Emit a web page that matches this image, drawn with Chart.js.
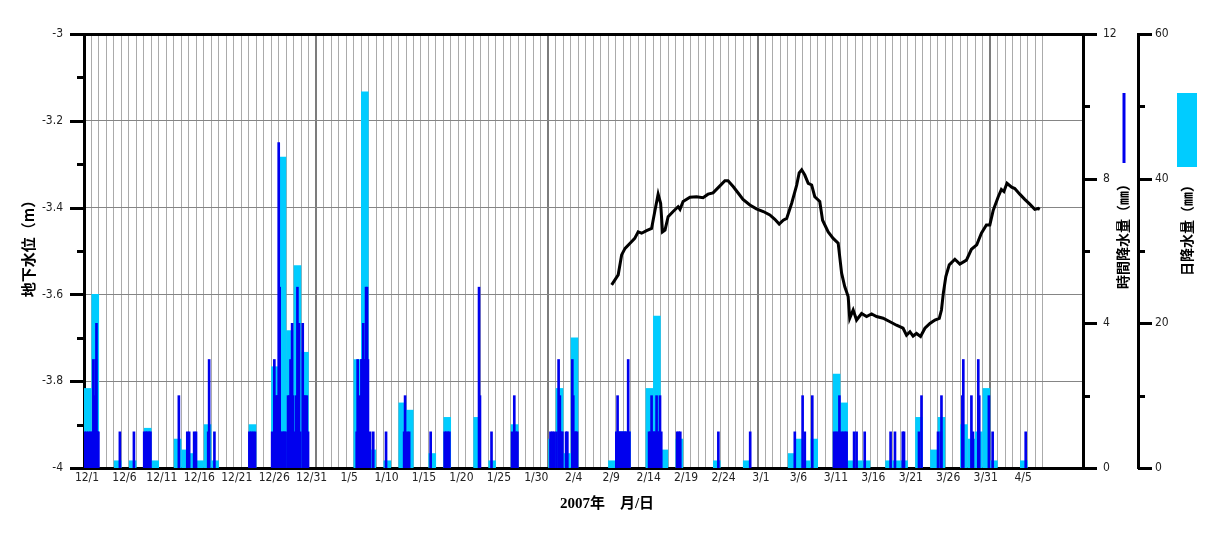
<!DOCTYPE html>
<html>
<head>
<meta charset="utf-8">
<script src="https://cdn.jsdelivr.net/npm/chart.js@4.4.0/dist/chart.umd.min.js"></script>
<style>
  html, body { margin: 0; padding: 0; background: #fff; }
  #wrap { width: 1215px; height: 544px; }
</style>
</head>
<body>
<div id="wrap"><canvas id="gwChart" width="1215" height="544"></canvas></div>
<script>
// day 0 = 2006/12/1, one unit = one day
const monthStarts = [[12, 0], [1, 31], [2, 62], [3, 90], [4, 121]];

// daily rainfall (mm)
const dailyDates = ["12/1","12/2","12/5","12/7","12/9","12/10","12/13","12/14","12/15","12/16","12/17","12/18","12/23","12/26","12/27","12/28","12/29","12/30",
  "1/6","1/7","1/8","1/10","1/12","1/13","1/16","1/18","1/22","1/24","1/27",
  "2/1","2/2","2/3","2/4","2/9","2/10","2/11","2/14","2/15","2/16","2/18","2/23","2/27",
  "3/5","3/6","3/7","3/8","3/11","3/12","3/13","3/14","3/15","3/18","3/19","3/20","3/22","3/24","3/25","3/28","3/29","3/30","3/31","4/1","4/5"];
const dailyRain = [11, 24, 1, 1, 5.5, 1, 4, 2.5, 2, 1, 6, 1, 6, 14, 43, 19, 28, 16,
  15, 52, 2.5, 1, 9, 8, 2, 7, 7, 1, 6,
  4, 11, 2, 18, 1, 5, 5, 11, 21, 2.5, 4, 1, 1,
  2, 4, 1, 4, 13, 9, 1, 1, 1, 1, 1, 1, 7, 2.5, 7, 6, 4, 5, 11, 1, 1];

// hourly rainfall (mm), "M/D H"
const hourlyTimes = ["12/1 2","12/1 8","12/1 14","12/1 20","12/2 1","12/2 6","12/2 10","12/2 14","12/2 16","12/2 20","12/2 22",
  "12/5 19","12/7 16","12/9 1","12/9 6","12/9 11","12/9 16","12/9 21","12/13 16","12/14 19","12/15 1","12/15 17","12/15 23",
  "12/17 14","12/17 17","12/18 10","12/23 2","12/23 8","12/23 14","12/23 20",
  "12/26 3","12/26 10","12/26 14","12/26 18","12/26 22","12/27 0","12/27 3","12/27 8","12/27 13","12/27 18","12/27 22",
  "12/28 6","12/28 10","12/28 14","12/28 18","12/28 19","12/28 22","12/29 3","12/29 8","12/29 12","12/29 17","12/29 21",
  "12/30 5","12/30 9","12/30 13","12/30 18","12/30 22",
  "1/6 10","1/6 13","1/6 16","1/6 20","1/7 1","1/7 4","1/7 7","1/7 10","1/7 13","1/7 16","1/7 19","1/7 22",
  "1/8 5","1/8 15","1/10 8","1/12 18","1/12 21","1/13 4","1/13 10","1/16 7","1/18 4","1/18 9","1/18 14","1/18 19",
  "1/22 18","1/22 21","1/24 10","1/27 4","1/27 11","1/27 16","1/27 21",
  "2/1 7","2/1 13","2/1 18","2/2 2","2/2 9","2/2 13","2/2 17","2/2 21","2/3 9","2/3 13",
  "2/4 5","2/4 8","2/4 12","2/4 16","2/4 20",
  "2/10 2","2/10 6","2/10 10","2/10 14","2/10 18","2/10 22","2/11 2","2/11 6","2/11 10","2/11 16","2/11 20",
  "2/14 11","2/14 15","2/14 19","2/14 23","2/15 3","2/15 7","2/15 11","2/15 15","2/15 18","2/15 22","2/16 2",
  "2/18 5","2/18 10","2/18 15","2/23 17","2/27 23",
  "3/5 22","3/6 23","3/7 6","3/8 6","3/11 4","3/11 10","3/11 16","3/11 21","3/12 3","3/12 9","3/12 15","3/12 20",
  "3/13 20","3/14 4","3/15 6","3/18 17","3/19 7","3/20 8","3/20 12","3/22 12","3/22 20",
  "3/25 1","3/25 10","3/25 12","3/28 7","3/28 10","3/29 12","3/29 17","3/30 10","3/30 13","3/31 20","4/1 8","4/5 18"];
const hourlyRain = [1, 1, 1, 1, 1, 3, 2, 3, 4, 1, 1,
  1, 1, 1, 1, 1, 1, 1, 2, 1, 1, 1, 1,
  1, 3, 1, 1, 1, 1, 1,
  1, 3, 2, 2, 2, 9, 5, 1, 1, 1, 1,
  2, 2, 3, 2, 4, 2, 1, 2, 5, 4, 1,
  4, 2, 2, 2, 1,
  1, 3, 1, 2, 3, 3, 4, 3, 3, 5, 5, 3,
  1, 1, 1, 1, 2, 1, 1, 1, 1, 1, 1, 1,
  5, 2, 1, 1, 2, 1, 1,
  1, 1, 1, 1, 3, 2, 1, 1, 1, 1,
  3, 2, 1, 1, 1,
  1, 2, 1, 1, 1, 1, 1, 1, 1, 3, 1,
  1, 1, 2, 1, 1, 1, 2, 1, 1, 2, 1,
  1, 1, 1, 1, 1,
  1, 2, 1, 2, 1, 1, 1, 2, 1, 1, 1, 1,
  1, 1, 1, 1, 1, 1, 1, 1, 2,
  1, 1, 2, 2, 3, 2, 1, 3, 2, 2, 1, 1];

// groundwater level (m), "M/D H"
const levelTimes = ["2/9 11","2/10 8","2/10 19","2/11 6","2/11 22","2/12 13","2/13 0","2/13 11","2/14 3","2/14 19",
  "2/15 6","2/15 16","2/16 0","2/16 6","2/16 14","2/17 0","2/17 16","2/18 8","2/18 14","2/19 0","2/19 22","2/20 19",
  "2/21 16","2/22 8","2/23 0","2/23 22","2/24 14","2/25 0","2/25 17","2/26 9","2/27 0","2/27 22","2/28 19",
  "3/1 17","3/2 14","3/3 6","3/3 20","3/4 9","3/4 20","3/5 12","3/6 4","3/6 12","3/6 20","3/7 6","3/7 17",
  "3/8 4","3/8 14","3/9 6","3/9 15","3/10 9","3/11 1","3/11 17","3/12 4","3/12 14","3/13 1","3/13 6","3/13 17",
  "3/14 4","3/14 20","3/15 12","3/16 4","3/16 20","3/17 17","3/18 15","3/19 12","3/20 9","3/20 20","3/21 7",
  "3/21 17","3/22 4","3/22 17","3/23 7","3/23 23","3/24 15","3/25 5","3/25 12","3/25 18","3/26 2","3/26 13",
  "3/27 7","3/27 23","3/28 20","3/29 12","3/30 5","3/30 20","3/31 12","3/31 23","4/1 10","4/2 2","4/2 12",
  "4/2 20","4/3 6","4/3 21","4/4 7","4/4 23","4/5 15","4/6 7","4/6 23","4/7 10","4/7 15"];
const levelValues = [-3.578, -3.555, -3.509, -3.494, -3.482, -3.471, -3.456, -3.459, -3.453, -3.448,
  -3.406, -3.369, -3.390, -3.456, -3.452, -3.421, -3.409, -3.398, -3.404, -3.386, -3.376, -3.375,
  -3.377, -3.369, -3.366, -3.350, -3.338, -3.338, -3.352, -3.367, -3.381, -3.394, -3.403,
  -3.409, -3.417, -3.427, -3.438, -3.429, -3.425, -3.390, -3.348, -3.320, -3.313, -3.325, -3.344,
  -3.348, -3.375, -3.386, -3.429, -3.456, -3.471, -3.482, -3.551, -3.582, -3.605, -3.655, -3.636,
  -3.659, -3.644, -3.651, -3.645, -3.651, -3.655, -3.663, -3.671, -3.678, -3.694, -3.686,
  -3.696, -3.690, -3.697, -3.678, -3.667, -3.659, -3.655, -3.636, -3.597, -3.559, -3.532,
  -3.519, -3.530, -3.521, -3.496, -3.486, -3.459, -3.440, -3.440, -3.406, -3.375, -3.358,
  -3.363, -3.344, -3.353, -3.356, -3.369, -3.381, -3.392, -3.404, -3.402, -3.404];

const X_MAX = 133.4;
const LAST_GRID_DAY = 128;
const monthLines = [31, 62, 90, 121];

function dayOf(str) {
  const [md, h] = str.split(' ');
  const [m, d] = md.split('/').map(Number);
  const start = monthStarts.find(ms => ms[0] === m)[1];
  return start + d - 1 + (h ? Number(h) / 24 : 0);
}

function labelOf(day) {
  let m = 12, s = 0;
  monthStarts.forEach(([mm, ss]) => { if (day >= ss) { m = mm; s = ss; } });
  return m + '/' + (day - s + 1);
}

const tickFont = { family: '"Liberation Sans Narrow", "Arial Narrow", "DejaVu Sans Condensed", sans-serif', size: 12 };
const jpFont = '"Noto Sans CJK JP", "Noto Sans CJK SC", sans-serif';

// tick marks, titles and legend swatches
const decorPlugin = {
  id: 'decor',
  afterDraw(chart) {
    const ctx = chart.ctx;
    const { y, y1, y2 } = chart.scales;
    ctx.save();
    ctx.strokeStyle = '#000';
    ctx.lineWidth = 3;
    const marks = (scale, x0, dir, isMajor) => {
      scale.ticks.forEach(t => {
        const py = Math.round(scale.getPixelForValue(t.value)) + 0.5;
        const len = isMajor(t.value) ? 14 : 7;
        ctx.beginPath();
        ctx.moveTo(x0, py);
        ctx.lineTo(x0 + dir * len, py);
        ctx.stroke();
      });
    };
    marks(y, y.right, -1, v => Math.round(v * 10) % 2 === 0);
    marks(y1, y1.left, 1, v => v % 4 === 0);
    marks(y2, y2.left, 1, v => v % 20 === 0);

    // legend swatches
    ctx.strokeStyle = '#0000EE';
    ctx.lineWidth = 3;
    ctx.beginPath();
    ctx.moveTo(1124, 93);
    ctx.lineTo(1124, 163);
    ctx.stroke();
    ctx.fillStyle = '#00CCFF';
    ctx.fillRect(1177, 93, 20, 74);

    // titles
    ctx.fillStyle = '#000';
    ctx.textAlign = 'center';
    ctx.textBaseline = 'middle';
    const vText = (text, x, yy, font) => {
      ctx.save();
      ctx.translate(x, yy);
      ctx.rotate(-Math.PI / 2);
      ctx.font = font;
      ctx.fillText(text, 0, 0);
      ctx.restore();
    };
    vText('地下水位（m）', 28, 245, 'bold 15px ' + jpFont);
    vText('時間降水量（㎜）', 1123, 233, 'bold 14px ' + jpFont);
    vText('日降水量（㎜）', 1187, 227, 'bold 14px ' + jpFont);
    ctx.font = 'bold 15px "Liberation Serif", ' + jpFont;
    ctx.fillText('2007年　月/日', 607, 504);
    ctx.restore();
  }
};

const dailyPts = dailyDates.map((d, i) => ({ x: dayOf(d) + 0.5, y: dailyRain[i] }));
const hourlyPts = hourlyTimes.map((t, i) => ({ x: dayOf(t), y: hourlyRain[i] }));
const levelPts = levelTimes.map((t, i) => ({ x: dayOf(t), y: levelValues[i] }));

new Chart(document.getElementById('gwChart'), {
  type: 'bar',
  data: {
    datasets: [
      {
        type: 'line', label: '地下水位', data: levelPts, yAxisID: 'y',
        borderColor: '#000', borderWidth: 3, pointRadius: 0, tension: 0, order: 0
      },
      {
        label: '時間降水量', data: hourlyPts, yAxisID: 'y1',
        backgroundColor: '#0000EE', barThickness: 2, grouped: false, order: 1
      },
      {
        label: '日降水量', data: dailyPts, yAxisID: 'y2',
        backgroundColor: '#00CCFF', barThickness: 7, grouped: false, order: 2
      }
    ]
  },
  options: {
    responsive: false,
    animation: false,
    layout: { padding: { top: 34, left: 0, right: 0, bottom: 0 } },
    plugins: { legend: { display: false }, tooltip: { enabled: false } },
    scales: {
      x: {
        type: 'linear', min: 0, max: X_MAX, offset: false,
        afterBuildTicks: s => {
          s.ticks = [];
          for (let d = 0; d <= LAST_GRID_DAY; d++) s.ticks.push({ value: d });
        },
        ticks: {
          autoSkip: false, maxRotation: 0, padding: 3, labelOffset: 3,
          color: '#222', font: tickFont,
          callback: v => (v % 5 === 0 && v <= 125) ? labelOf(v) : ''
        },
        grid: {
          offset: false, drawTicks: false,
          color: c => monthLines.includes(c.tick && c.tick.value) ? '#7c7c7c' : '#ababab',
          lineWidth: c => monthLines.includes(c.tick && c.tick.value) ? 2 : 1
        },
        border: { color: '#000', width: 3 },
        afterFit: s => { s.height = 76; }
      },
      xTop: {
        type: 'linear', position: 'top', min: 0, max: 1,
        ticks: { display: false },
        grid: { display: false, drawTicks: false },
        border: { color: '#000', width: 3 },
        afterFit: s => { s.height = 0; }
      },
      y: {
        position: 'left', min: -4, max: -3,
        afterBuildTicks: s => {
          s.ticks = [];
          for (let i = 0; i <= 10; i++) s.ticks.push({ value: Number((-4 + i / 10).toFixed(1)) });
        },
        ticks: {
          padding: 21, color: '#222', font: tickFont,
          callback: v => Math.round(v * 10) % 2 === 0 ? String(Number(v.toFixed(1))) : ''
        },
        grid: {
          drawTicks: false,
          color: c => (c.tick && Math.round(c.tick.value * 10) % 2 === 0) ? '#858585' : 'rgba(0,0,0,0)'
        },
        border: { color: '#000', width: 3 },
        afterFit: s => { s.width = 84; }
      },
      y1: {
        position: 'right', min: 0, max: 12,
        afterBuildTicks: s => {
          s.ticks = [];
          for (let v = 0; v <= 12; v += 2) s.ticks.push({ value: v });
        },
        ticks: {
          padding: 20, color: '#222', font: tickFont,
          callback: v => v % 4 === 0 ? String(v) : ''
        },
        grid: { display: false, drawTicks: false },
        border: { color: '#000', width: 3 },
        afterFit: s => { s.width = 55; }
      },
      y2: {
        position: 'right', min: 0, max: 60,
        afterBuildTicks: s => {
          s.ticks = [];
          for (let v = 0; v <= 60; v += 10) s.ticks.push({ value: v });
        },
        ticks: {
          padding: 17, color: '#222', font: tickFont,
          callback: v => v % 20 === 0 ? String(v) : ''
        },
        grid: { display: false, drawTicks: false },
        border: { color: '#000', width: 3 },
        afterFit: s => { s.width = 77; }
      }
    }
  },
  plugins: [decorPlugin]
});
</script>
</body>
</html>
